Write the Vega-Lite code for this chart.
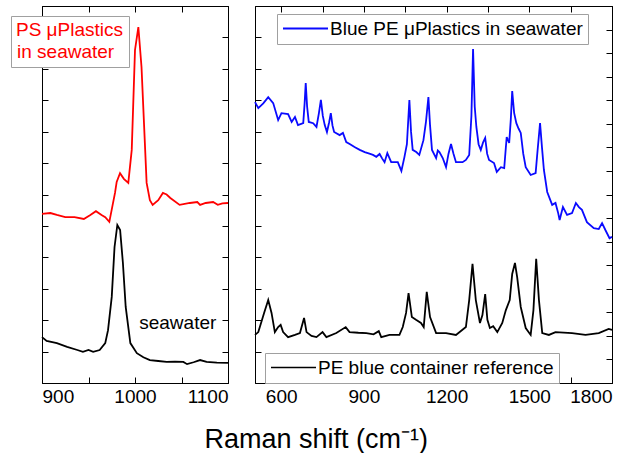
{
  "$schema": "https://vega.github.io/schema/vega-lite/v6.json",
  "padding": {"left": 10, "top": 5, "right": 5, "bottom": 0},
  "spacing": 27,
  "bounds": "flush",
  "background": "white",
  "config": {
    "font": "Liberation Sans",
    "view": {"stroke": "black", "strokeWidth": 1},
    "axis": {"domainColor": "black", "tickColor": "black", "tickSize": -6, "labelFontSize": 19, "labelColor": "black", "labelPadding": 10, "grid": false, "labelFont": "Liberation Sans"},
    "legend": {"labelFont": "Liberation Sans", "labelFontSize": 19, "labelColor": "black", "strokeColor": "#a0a0a0", "fillColor": "white", "padding": 5, "labelLimit": 400}
  },
  "title": {"text": "Raman shift (cm⁻¹)", "orient": "bottom", "anchor": "middle", "fontSize": 27, "fontWeight": "normal", "font": "Liberation Sans", "color": "black", "offset": 20, "dx": 3},
  "datasets": {
    "ps": [
      {"x": 900, "y": 5.38}, {"x": 909, "y": 5.41}, {"x": 916, "y": 5.35}, {"x": 925, "y": 5.28}, {"x": 935, "y": 5.28},
      {"x": 945, "y": 5.22}, {"x": 952, "y": 5.35}, {"x": 958, "y": 5.47}, {"x": 964, "y": 5.35}, {"x": 968, "y": 5.28},
      {"x": 972.4, "y": 5.13}, {"x": 975.5, "y": 5.6}, {"x": 978.5, "y": 6.05}, {"x": 980.3, "y": 6.4}, {"x": 983.9, "y": 6.68},
      {"x": 988, "y": 6.5}, {"x": 992.8, "y": 6.37}, {"x": 996.5, "y": 7.42}, {"x": 1000, "y": 10.6}, {"x": 1003.6, "y": 11.33},
      {"x": 1007, "y": 10.06}, {"x": 1012.5, "y": 6.37}, {"x": 1016, "y": 5.82}, {"x": 1019, "y": 5.67}, {"x": 1025, "y": 5.82},
      {"x": 1030, "y": 6.05}, {"x": 1034, "y": 6.0}, {"x": 1038, "y": 5.89}, {"x": 1048, "y": 5.67}, {"x": 1059, "y": 5.73},
      {"x": 1067, "y": 5.76}, {"x": 1070, "y": 5.67}, {"x": 1076, "y": 5.73}, {"x": 1084, "y": 5.76}, {"x": 1089, "y": 5.67},
      {"x": 1094, "y": 5.72}, {"x": 1100, "y": 5.73}
    ],
    "sw": [
      {"x": 900, "y": 1.46}, {"x": 905, "y": 1.34}, {"x": 916, "y": 1.27}, {"x": 927, "y": 1.15}, {"x": 938, "y": 1.05},
      {"x": 944, "y": 0.99}, {"x": 950, "y": 1.05}, {"x": 955, "y": 0.99}, {"x": 962, "y": 1.05}, {"x": 968, "y": 1.27},
      {"x": 971, "y": 1.68}, {"x": 975, "y": 2.74}, {"x": 978, "y": 4.33}, {"x": 981, "y": 5.03}, {"x": 984, "y": 4.87},
      {"x": 987, "y": 3.82}, {"x": 990, "y": 2.42}, {"x": 995, "y": 1.27}, {"x": 1002, "y": 0.95}, {"x": 1009, "y": 0.82},
      {"x": 1016, "y": 0.73}, {"x": 1025, "y": 0.7}, {"x": 1034, "y": 0.67}, {"x": 1043, "y": 0.68}, {"x": 1052, "y": 0.67},
      {"x": 1056, "y": 0.6}, {"x": 1063, "y": 0.66}, {"x": 1070, "y": 0.73}, {"x": 1077, "y": 0.67}, {"x": 1088, "y": 0.65},
      {"x": 1100, "y": 0.64}
    ],
    "blue": [
      {"x": 505, "y": 8.94}, {"x": 517, "y": 8.75}, {"x": 535, "y": 8.9}, {"x": 553, "y": 9.1}, {"x": 571, "y": 8.91},
      {"x": 589, "y": 8.37}, {"x": 601, "y": 8.59}, {"x": 625, "y": 8.56}, {"x": 638, "y": 8.31}, {"x": 650, "y": 8.47},
      {"x": 661, "y": 8.21}, {"x": 680, "y": 8.27}, {"x": 685, "y": 8.9}, {"x": 689, "y": 9.55}, {"x": 694, "y": 8.8},
      {"x": 700, "y": 8.31}, {"x": 716, "y": 8.27}, {"x": 728, "y": 8.15}, {"x": 737, "y": 8.6}, {"x": 744, "y": 9.01},
      {"x": 751, "y": 8.5}, {"x": 758, "y": 8.21}, {"x": 766, "y": 7.99}, {"x": 774, "y": 8.3}, {"x": 780, "y": 8.59},
      {"x": 786, "y": 8.2}, {"x": 792, "y": 7.99}, {"x": 812, "y": 7.89}, {"x": 824, "y": 7.96}, {"x": 836, "y": 7.67},
      {"x": 850, "y": 7.6}, {"x": 866, "y": 7.51}, {"x": 885, "y": 7.42}, {"x": 903, "y": 7.35}, {"x": 920, "y": 7.3},
      {"x": 933, "y": 7.26}, {"x": 945, "y": 7.2}, {"x": 957, "y": 7.29}, {"x": 966, "y": 7.15}, {"x": 975, "y": 7.03},
      {"x": 985, "y": 7.32}, {"x": 999, "y": 7.03}, {"x": 1023, "y": 7.03}, {"x": 1036, "y": 6.75}, {"x": 1047, "y": 7.19},
      {"x": 1056, "y": 7.6}, {"x": 1065, "y": 9.01}, {"x": 1071, "y": 8.0}, {"x": 1077, "y": 7.42}, {"x": 1090, "y": 7.35},
      {"x": 1101, "y": 7.26}, {"x": 1116, "y": 7.73}, {"x": 1125, "y": 8.3}, {"x": 1134, "y": 9.1}, {"x": 1140, "y": 8.2},
      {"x": 1147, "y": 7.42}, {"x": 1162, "y": 7.16}, {"x": 1168, "y": 7.4}, {"x": 1174, "y": 7.35}, {"x": 1186, "y": 7.16},
      {"x": 1198, "y": 6.87}, {"x": 1207, "y": 7.3}, {"x": 1216, "y": 7.61}, {"x": 1225, "y": 7.3}, {"x": 1234, "y": 7.03},
      {"x": 1258, "y": 7.03}, {"x": 1270, "y": 7.1}, {"x": 1282, "y": 7.26}, {"x": 1290, "y": 8.5}, {"x": 1296, "y": 10.63},
      {"x": 1302, "y": 8.8}, {"x": 1308, "y": 8.15}, {"x": 1316, "y": 7.6}, {"x": 1324, "y": 7.42}, {"x": 1332, "y": 7.65},
      {"x": 1340, "y": 7.8}, {"x": 1347, "y": 7.3}, {"x": 1354, "y": 7.1}, {"x": 1372, "y": 7.0}, {"x": 1382, "y": 6.72},
      {"x": 1397, "y": 6.87}, {"x": 1409, "y": 6.84}, {"x": 1418, "y": 7.83}, {"x": 1427, "y": 7.64}, {"x": 1433, "y": 8.4},
      {"x": 1438, "y": 9.29}, {"x": 1445, "y": 8.6}, {"x": 1453, "y": 8.27}, {"x": 1461, "y": 8.1}, {"x": 1469, "y": 7.96},
      {"x": 1478, "y": 7.3}, {"x": 1487, "y": 6.87}, {"x": 1505, "y": 6.62}, {"x": 1523, "y": 6.68}, {"x": 1530, "y": 7.4},
      {"x": 1539, "y": 8.27}, {"x": 1546, "y": 7.5}, {"x": 1553, "y": 6.78}, {"x": 1565, "y": 6.08}, {"x": 1583, "y": 5.67},
      {"x": 1595, "y": 5.73}, {"x": 1605, "y": 5.4}, {"x": 1610, "y": 5.19}, {"x": 1622, "y": 5.6}, {"x": 1637, "y": 5.35},
      {"x": 1655, "y": 5.41}, {"x": 1669, "y": 5.73}, {"x": 1680, "y": 5.6}, {"x": 1691, "y": 5.51}, {"x": 1709, "y": 5.12},
      {"x": 1734, "y": 4.93}, {"x": 1752, "y": 4.9}, {"x": 1764, "y": 5.09}, {"x": 1776, "y": 4.87}, {"x": 1791, "y": 4.61},
      {"x": 1800, "y": 4.65}
    ],
    "ref": [
      {"x": 505, "y": 1.53}, {"x": 517, "y": 1.62}, {"x": 538, "y": 2.23}, {"x": 553, "y": 2.64}, {"x": 565, "y": 2.23},
      {"x": 577, "y": 1.62}, {"x": 589, "y": 1.78}, {"x": 598, "y": 1.85}, {"x": 607, "y": 1.62}, {"x": 625, "y": 1.46},
      {"x": 650, "y": 1.53}, {"x": 668, "y": 1.59}, {"x": 683, "y": 2.07}, {"x": 692, "y": 1.62}, {"x": 710, "y": 1.5},
      {"x": 728, "y": 1.46}, {"x": 750, "y": 1.62}, {"x": 764, "y": 1.46}, {"x": 800, "y": 1.59}, {"x": 834, "y": 1.78},
      {"x": 848, "y": 1.62}, {"x": 880, "y": 1.6}, {"x": 909, "y": 1.59}, {"x": 935, "y": 1.55}, {"x": 954, "y": 1.65},
      {"x": 963, "y": 1.46}, {"x": 993, "y": 1.53}, {"x": 1029, "y": 1.53}, {"x": 1041, "y": 1.78}, {"x": 1053, "y": 2.23},
      {"x": 1062, "y": 2.86}, {"x": 1074, "y": 2.1}, {"x": 1089, "y": 2.01}, {"x": 1107, "y": 1.91}, {"x": 1117, "y": 1.78},
      {"x": 1128, "y": 2.9}, {"x": 1140, "y": 2.1}, {"x": 1162, "y": 1.59}, {"x": 1198, "y": 1.59}, {"x": 1234, "y": 1.53},
      {"x": 1270, "y": 1.78}, {"x": 1282, "y": 2.64}, {"x": 1294, "y": 3.79}, {"x": 1306, "y": 2.64}, {"x": 1321, "y": 1.91},
      {"x": 1330, "y": 2.16}, {"x": 1340, "y": 2.83}, {"x": 1348, "y": 2.01}, {"x": 1357, "y": 1.75}, {"x": 1369, "y": 1.81},
      {"x": 1384, "y": 1.62}, {"x": 1402, "y": 1.91}, {"x": 1415, "y": 2.32}, {"x": 1429, "y": 2.64}, {"x": 1438, "y": 3.47},
      {"x": 1448, "y": 3.82}, {"x": 1456, "y": 3.37}, {"x": 1469, "y": 2.42}, {"x": 1487, "y": 1.75}, {"x": 1505, "y": 1.53},
      {"x": 1515, "y": 2.32}, {"x": 1525, "y": 3.95}, {"x": 1535, "y": 2.64}, {"x": 1547, "y": 1.59}, {"x": 1571, "y": 1.53},
      {"x": 1595, "y": 1.62}, {"x": 1655, "y": 1.59}, {"x": 1704, "y": 1.53}, {"x": 1752, "y": 1.59}, {"x": 1788, "y": 1.72},
      {"x": 1800, "y": 1.69}
    ]
  },
  "hconcat": [
    {
      "width": 186,
      "height": 377,
      "layer": [
        {
          "data": {"name": "ps"},
          "mark": {"type": "line", "strokeWidth": 1.8},
          "encoding": {
            "x": {"field": "x", "type": "quantitative", "scale": {"domain": [900, 1100], "nice": false, "zero": false},
                  "axis": {"orient": "bottom", "values": [900, 950, 1000, 1050, 1100], "format": "d", "labelExpr": "datum.value % 100 === 0 ? datum.label : ''", "title": null}},
            "y": {"field": "y", "type": "quantitative", "scale": {"domain": [0, 12], "nice": false},
                  "axis": {"orient": "left", "values": [1, 2, 3, 4, 5, 6, 7, 8, 9, 10, 11], "labels": false, "title": null}},
            "color": {"datum": "PS μPlastics in seawater", "scale": {"range": ["#ff0000"]},
                      "legend": {"orient": "none", "legendX": -31, "legendY": 10, "title": "PS μPlastics", "titleColor": "#ff0000", "titleFontSize": 19, "titleFontWeight": "normal", "titleFont": "Liberation Sans", "titlePadding": 2, "symbolOpacity": 0, "symbolSize": 0, "symbolStrokeWidth": 0, "labelOffset": -18, "labelColor": "#ff0000", "labelFontSize": 19, "labelExpr": "'in seawater'"}}
          }
        },
        {
          "data": {"name": "sw"},
          "mark": {"type": "line", "color": "black", "strokeWidth": 1.8},
          "encoding": {
            "x": {"field": "x", "type": "quantitative", "scale": {"domain": [900, 1100], "nice": false, "zero": false},
                  "axis": {"orient": "top", "values": [900, 950, 1000, 1050, 1100], "labels": false, "title": null}},
            "y": {"field": "y", "type": "quantitative", "scale": {"domain": [0, 12], "nice": false},
                  "axis": {"orient": "right", "values": [1, 2, 3, 4, 5, 6, 7, 8, 9, 10, 11], "labels": false, "title": null}}
          }
        },
        {
          "data": {"values": [{"label": "seawater"}]},
          "mark": {"type": "text", "fontSize": 19, "color": "black", "align": "center", "baseline": "middle", "font": "Liberation Sans"},
          "encoding": {
            "x": {"datum": 1046, "type": "quantitative", "axis": null},
            "y": {"datum": 1.91, "type": "quantitative", "axis": null},
            "text": {"field": "label"}
          }
        }
      ],
      "resolve": {"axis": {"x": "independent", "y": "independent"}}
    },
    {
      "width": 357,
      "height": 377,
      "layer": [
        {
          "data": {"name": "blue"},
          "mark": {"type": "line", "strokeWidth": 1.8},
          "encoding": {
            "x": {"field": "x", "type": "quantitative", "scale": {"domain": [505, 1800], "nice": false, "zero": false},
                  "axis": {"orient": "bottom", "values": [600, 750, 900, 1050, 1200, 1350, 1500, 1650, 1800], "format": "d", "labelExpr": "datum.value % 300 === 0 ? datum.label : ''", "title": null}},
            "y": {"field": "y", "type": "quantitative", "scale": {"domain": [0, 12], "nice": false},
                  "axis": {"orient": "left", "values": [1, 2, 3, 4, 5, 6, 7, 8, 9, 10, 11], "labels": false, "title": null}},
            "color": {"datum": "Blue PE μPlastics in seawater", "scale": {"range": ["#0a0aff"]},
                      "legend": {"orient": "none", "legendX": 22, "legendY": 8, "title": null, "symbolType": "M-3,0H3", "symbolSize": 225, "symbolStrokeWidth": 2, "symbolOffset": 14, "labelOffset": 15}}
          }
        },
        {
          "data": {"name": "ref"},
          "mark": {"type": "line", "strokeWidth": 1.8},
          "encoding": {
            "x": {"field": "x", "type": "quantitative", "scale": {"domain": [505, 1800], "nice": false, "zero": false},
                  "axis": {"orient": "top", "values": [600, 750, 900, 1050, 1200, 1350, 1500, 1650, 1800], "labels": false, "title": null}},
            "y": {"field": "y", "type": "quantitative", "scale": {"domain": [0, 12], "nice": false},
                  "axis": {"orient": "right", "values": [0.75, 1.5, 2.25, 3, 3.75, 4.5, 5.25, 6, 6.75, 7.5, 8.25, 9, 9.75, 10.5, 11.25], "labels": false, "title": null}},
            "color": {"datum": "PE blue container reference", "scale": {"range": ["#000000"]},
                      "legend": {"orient": "none", "legendX": 10, "legendY": 347, "title": null, "symbolType": "M-3,0H3", "symbolSize": 225, "symbolStrokeWidth": 1.5, "symbolOffset": 14, "labelOffset": 15}}
          }
        }
      ],
      "resolve": {"axis": {"x": "independent", "y": "independent"}, "scale": {"color": "independent"}}
    }
  ]
}
